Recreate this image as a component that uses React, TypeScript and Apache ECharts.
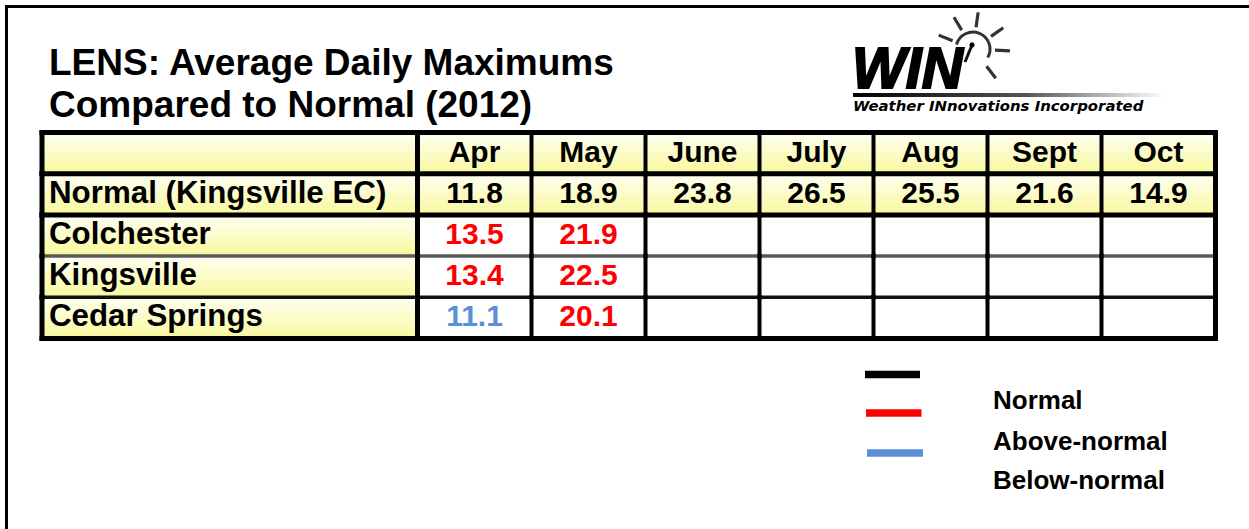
import React, { useEffect, useRef } from "react";
import * as echarts from "echarts";

// ---------------- data ----------------
const TITLE_LINES = ["LENS: Average Daily Maximums", "Compared to Normal (2012)"];
const MONTHS = ["Apr", "May", "June", "July", "Aug", "Sept", "Oct"];
const NORMAL_LABEL = "Normal (Kingsville EC)";
const NORMAL_VALUES = [11.8, 18.9, 23.8, 26.5, 25.5, 21.6, 14.9];
const STATIONS = ["Colchester", "Kingsville", "Cedar Springs"];
const COLCHESTER = [13.5, 21.9, null, null, null, null, null];
const KINGSVILLE = [13.4, 22.5, null, null, null, null, null];
const CEDAR_SPRINGS = [11.1, 20.1, null, null, null, null, null];
const STATION_VALUES = [COLCHESTER, KINGSVILLE, CEDAR_SPRINGS];
const LEGEND_LABELS = ["Normal", "Above-normal", "Below-normal"];
const LEGEND_COLORS = ["#000000", "#ff0000", "#5b8fd6"];
const LOGO_TEXT = "WIN";
const LOGO_SUBTITLE = "Weather INnovations Incorporated";

// ---------------- styles ----------------
const FONT = "'Liberation Sans', Arial, Helvetica, sans-serif";
const ROW_KEYS = ["header", NORMAL_LABEL, ...STATIONS];

type Cell = { col: number; row: number; text: string; color: string; yellow: boolean; align: "left" | "center"; size: number };

const yellowFill = () =>
  new echarts.graphic.LinearGradient(0, 0, 0, 1, [
    { offset: 0, color: "#fffff4" },
    { offset: 1, color: "#f8f89c" },
  ]);

function valueColor(v: number, normal: number) {
  if (v > normal) return LEGEND_COLORS[1];
  if (v < normal) return LEGEND_COLORS[2];
  return LEGEND_COLORS[0];
}

// horizontal boundary styles, index = boundary above row index (0..ROW_KEYS.length)
function hStyle(b: number) {
  if (b === 3) return { stroke: "#5a5a5a", lineWidth: 3.5 };
  if (b === 4) return { stroke: "#111111", lineWidth: 3.5 };
  return { stroke: "#000000", lineWidth: 5 };
}

const labelCells: Cell[] = ROW_KEYS.map((k, r) => ({
  col: 0,
  row: r,
  text: r === 0 ? "" : k,
  color: "#000",
  yellow: true,
  align: "left",
  size: 31.3,
}));

const monthCells: Cell[] = [];
MONTHS.forEach((m, c) => {
  monthCells.push({ col: c, row: 0, text: m, color: "#000", yellow: true, align: "center", size: 30 });
  monthCells.push({
    col: c,
    row: 1,
    text: NORMAL_VALUES[c].toFixed(1),
    color: LEGEND_COLORS[0],
    yellow: true,
    align: "center",
    size: 30,
  });
  STATION_VALUES.forEach((vals, s) => {
    const v = vals[c];
    monthCells.push({
      col: c,
      row: 2 + s,
      text: v == null ? "" : v.toFixed(1),
      color: v == null ? "#000" : valueColor(v, NORMAL_VALUES[c]),
      yellow: false,
      align: "center",
      size: 30,
    });
  });
});

function makeRender(cells: Cell[], nCols: number, leftW: (c: number) => number, rightW: number) {
  return (params: any, api: any) => {
    const cell = cells[params.dataIndex];
    const center = api.coord([api.value(0), api.value(1)]);
    const size = api.size([1, 1]);
    const w = size[0];
    const h = size[1];
    const x0 = center[0] - w / 2;
    const y0 = center[1] - h / 2;
    const children: any[] = [
      {
        type: "rect",
        shape: { x: x0, y: y0, width: w, height: h },
        style: { fill: cell.yellow ? yellowFill() : "#ffffff" },
        z2: 0,
      },
    ];
    if (cell.text) {
      children.push({
        type: "text",
        z2: 5,
        style: {
          text: cell.text,
          x: cell.align === "left" ? x0 + 7 : center[0],
          y: center[1] - 2,
          fill: cell.color,
          fontSize: cell.size,
          fontWeight: "bold",
          fontFamily: FONT,
          align: cell.align,
          verticalAlign: "middle",
        },
      });
    }
    const lw = leftW(cell.col);
    const ts = hStyle(cell.row);
    children.push({
      type: "line",
      z2: ts.lineWidth >= 5 ? 12 : 10,
      shape: { x1: x0 - 2.5, y1: y0, x2: x0 + w + 2.5, y2: y0 },
      style: ts,
    });
    if (cell.row === ROW_KEYS.length - 1) {
      const bs = hStyle(ROW_KEYS.length);
      children.push({
        type: "line",
        z2: 12,
        shape: { x1: x0 - 2.5, y1: y0 + h, x2: x0 + w + 2.5, y2: y0 + h },
        style: bs,
      });
    }
    children.push({
      type: "line",
      z2: lw >= 5 ? 12 : 11,
      shape: { x1: x0, y1: y0 - 2.5, x2: x0, y2: y0 + h + 2.5 },
      style: { stroke: "#000", lineWidth: lw },
    });
    if (cell.col === nCols - 1) {
      children.push({
        type: "line",
        z2: 12,
        shape: { x1: x0 + w, y1: y0 - 2.5, x2: x0 + w, y2: y0 + h + 2.5 },
        style: { stroke: "#000", lineWidth: rightW },
      });
    }
    return { type: "group", children };
  };
}

function deg(a: number) {
  return (a * Math.PI) / 180;
}

function buildLogo(): any[] {
  const cx = 973;
  const cy = 49;
  const rayAngles = [-158, -121, -82, -35, 3, 52];
  const rays = rayAngles.map((a) => ({
    type: "line",
    shape: {
      x1: cx + 22 * Math.cos(deg(a)),
      y1: cy + 22 * Math.sin(deg(a)),
      x2: cx + 37 * Math.cos(deg(a)),
      y2: cy + 37 * Math.sin(deg(a)),
    },
    style: { stroke: "#333", lineWidth: 3.2 },
  }));
  return [
    {
      type: "arc",
      shape: { cx, cy, r: 17, startAngle: deg(-165), endAngle: deg(30), clockwise: true },
      style: { stroke: "#333", lineWidth: 3, fill: "none" },
    },
    ...rays,
    {
      type: "line",
      shape: { x1: 972, y1: 45, x2: 965, y2: 62 },
      style: { stroke: "#111", lineWidth: 3 },
    },
    { type: "circle", shape: { cx: 972, cy: 45, r: 2.6 }, style: { fill: "#000" } },
    {
      type: "text",
      x: 852,
      y: 68,
      style: {
        text: LOGO_TEXT,
        fontSize: 57,
        fontWeight: "bold",
        fontStyle: "italic",
        fontFamily: FONT,
        fill: "#000",
        stroke: "#000",
        lineWidth: 2,
        align: "left",
        verticalAlign: "middle",
      },
    },
    {
      type: "rect",
      shape: { x: 853, y: 93, width: 312, height: 4 },
      style: {
        fill: new echarts.graphic.LinearGradient(0, 0, 1, 0, [
          { offset: 0, color: "#000000" },
          { offset: 0.55, color: "#555555" },
          { offset: 1, color: "#ffffff" },
        ]),
      },
    },
    {
      type: "text",
      x: 853,
      y: 105.5,
      style: {
        text: LOGO_SUBTITLE,
        fontSize: 14.9,
        fontWeight: "bold",
        fontStyle: "italic",
        fontFamily: "'DejaVu Sans', Verdana, sans-serif",
        fill: "#000",
        align: "left",
        verticalAlign: "middle",
      },
    },
  ];
}

function buildGraphic(): any[] {
  const g: any[] = [];
  // frame
  g.push({ type: "line", shape: { x1: 5, y1: 6.5, x2: 1249, y2: 6.5 }, style: { stroke: "#000", lineWidth: 3 } });
  g.push({ type: "line", shape: { x1: 6.5, y1: 5, x2: 6.5, y2: 529 }, style: { stroke: "#000", lineWidth: 3 } });
  // title
  TITLE_LINES.forEach((t, i) => {
    g.push({
      type: "text",
      x: 49,
      y: 62 + i * 42,
      style: {
        text: t,
        fontSize: 37,
        fontWeight: "bold",
        fontFamily: FONT,
        fill: "#000",
        align: "left",
        verticalAlign: "middle",
      },
    });
  });
  // legend
  const lineY = [374.5, 413, 453];
  const textY = [400, 441, 480];
  LEGEND_LABELS.forEach((lab, i) => {
    g.push({
      type: "line",
      shape: { x1: 865 + i * 1, y1: lineY[i], x2: 920 + i * 1.5, y2: lineY[i] },
      style: { stroke: LEGEND_COLORS[i], lineWidth: 7.5 },
    });
    g.push({
      type: "text",
      x: 993,
      y: textY[i],
      style: {
        text: lab,
        fontSize: 26,
        fontWeight: "bold",
        fontFamily: FONT,
        fill: "#000",
        align: "left",
        verticalAlign: "middle",
      },
    });
  });
  g.push(...buildLogo());
  return g;
}

export default function App() {
  const ref = useRef<HTMLDivElement>(null);
  useEffect(() => {
    if (!ref.current) return;
    const chart = echarts.init(ref.current, undefined, { renderer: "svg" });
    const option: any = {
      animation: false,
      backgroundColor: "#ffffff",
      grid: [
        { left: 42, top: 132.5, width: 375.5, height: 206 },
        { left: 417.5, top: 132.5, width: 798, height: 206 },
      ],
      xAxis: [
        { type: "category", gridIndex: 0, data: [""], show: false },
        { type: "category", gridIndex: 1, data: MONTHS, show: false },
      ],
      yAxis: [
        { type: "category", gridIndex: 0, data: ROW_KEYS, inverse: true, show: false },
        { type: "category", gridIndex: 1, data: ROW_KEYS, inverse: true, show: false },
      ],
      series: [
        {
          type: "custom",
          xAxisIndex: 0,
          yAxisIndex: 0,
          clip: false,
          silent: true,
          data: labelCells.map((c) => [c.col, c.row]),
          renderItem: makeRender(labelCells, 1, () => 5, 5),
        },
        {
          type: "custom",
          xAxisIndex: 1,
          yAxisIndex: 1,
          clip: false,
          silent: true,
          data: monthCells.map((c) => [c.col, c.row]),
          renderItem: makeRender(monthCells, MONTHS.length, (c) => (c === 0 ? 5 : 4), 5),
        },
      ],
      graphic: buildGraphic(),
    };
    chart.setOption(option);
    return () => chart.dispose();
  }, []);
  return (
    <div
      ref={ref}
      style={{ position: "absolute", left: 0, top: 0, width: 1249, height: 529, background: "#fff" }}
    />
  );
}
